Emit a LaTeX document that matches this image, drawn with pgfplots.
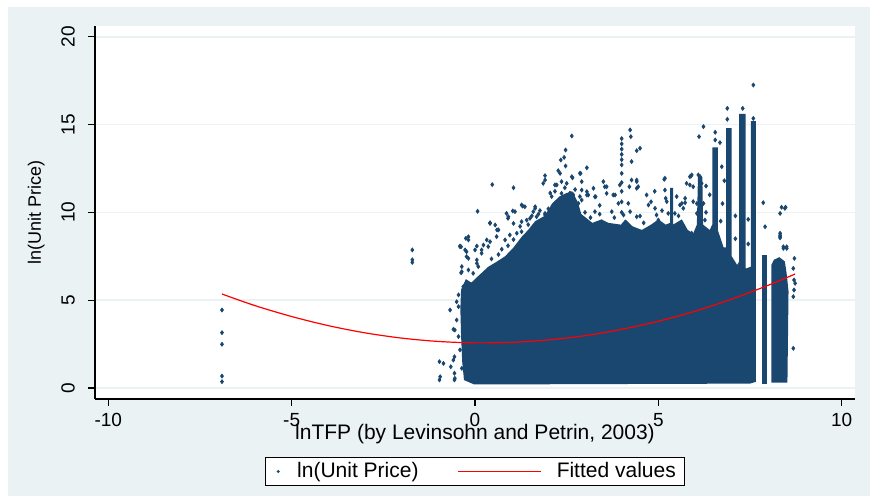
\documentclass[border=0pt]{standalone}
\usepackage{pgfplots}
\pgfplotsset{compat=1.18}
\usepackage{fontspec}
\setmainfont{Liberation Sans}
\definecolor{stnavy}{RGB}{26,71,111}
\definecolor{stbg}{RGB}{234,242,243}
\definecolor{stgrid}{RGB}{234,242,243}
\pgfplotsset{
  scatlegend/.style={legend image code/.code={\path[draw=none, fill=none] (0pt,-1pt) rectangle (4pt,1pt); \fill[stnavy, draw=none] (2pt,0pt) circle (0.8pt);}},
  linelegend/.style={legend image code/.code={\draw[##1] (0pt,0pt) -- (41.5pt,0pt);}},
}
\begin{document}
\begin{tikzpicture}
\fill[white] (0,0) rectangle (435pt,248pt);
\fill[stbg] (4pt,0) rectangle (435pt,244.5pt);
\begin{axis}[
  at={(47.5pt,48.5pt)}, anchor=south west,
  scale only axis, width=380pt, height=186.5pt,
  xmin=-10.363, xmax=10.363, ymin=-0.626, ymax=20.61,
  axis x line*=bottom, axis y line*=left,
  axis line style={-, black, line width=0.6pt},
  axis background/.style={fill=white},
  xtick={-10,-5,0,5,10}, xticklabels={-10,-5,0,5,10},
  ytick={0,5,10,15,20}, yticklabels={0,5,10,15,20},
  tick align=outside, major tick length=3.3pt,
  tick style={black, line width=0.6pt},
  ymajorgrids, major grid style={stgrid, line width=0.8pt},
  xticklabel style={font=\fontsize{9.5}{11}\selectfont, anchor=base, yshift=-10.5pt},
  yticklabel style={font=\fontsize{9.5}{11}\selectfont, xshift=-6.9pt, rotate=90, anchor=base},
  every axis x label/.style={at={(rel axis cs:0.5,0)}, anchor=base, yshift=-20.25pt, font=\fontsize{10.5}{12}\selectfont},
  every axis y label/.style={at={(rel axis cs:0,0.5)}, xshift=-27pt, rotate=90, anchor=base, font=\fontsize{9}{11}\selectfont},
  xlabel={lnTFP (by Levinsohn and Petrin, 2003)},
  ylabel={ln(Unit Price)},
  legend columns=2,
  legend style={at={(0.5,-0.1944)}, anchor=center, draw=black, line width=0.6pt, fill=white,
    font=\fontsize{10.5}{12}\selectfont, inner xsep=4.5pt, inner ysep=2.4pt,
    nodes={inner sep=0pt},
    /tikz/every odd column/.append style={column sep=7.5pt},
    /tikz/every even column/.append style={column sep=19.5pt}},
]
% dense mass of observations, drawn as filled regions
\addplot[fill=stnavy, draw=none, forget plot] coordinates {
(-0.02,0.2)(-0.3,0.45)(-0.35,1.5)(-0.38,3.0)(-0.4,4.5)(-0.38,5.6)(-0.25,6.2)(-0.1,6.0)(0.05,6.3)
(0.36,6.9)(0.6,7.2)(0.82,7.5)(1.05,8.0)(1.27,8.6)(1.45,9.0)(1.64,9.5)(1.9,9.8)(2.1,10.5)(2.3,10.9)
(2.5,11.1)(2.65,11.2)(2.8,10.6)(2.9,9.9)(3.2,9.4)(3.45,9.6)(3.64,9.4)(3.98,9.3)(4.1,9.6)(4.3,9.2)
(4.55,9.0)(4.8,9.3)(5.0,9.6)(5.2,9.3)(5.32,9.4)(5.32,11.4)(5.40,11.4)(5.40,9.3)(5.64,9.6)(5.8,9.0)
(5.95,8.8)(6.05,9.3)(6.08,12.0)(6.2,12.0)(6.22,9.3)(6.4,9.0)(6.47,9.3)(6.47,13.7)(6.62,13.7)(6.62,9.0)
(6.78,8.0)(6.85,8.0)(6.85,14.8)(7.0,14.8)(7.0,7.5)(7.15,7.0)(7.2,7.2)(7.2,15.6)(7.38,15.6)(7.38,6.8)
(7.52,6.9)(7.52,15.2)(7.66,15.2)(7.66,0.35)(7.5,0.25)
} -- cycle;
\addplot[fill=stnavy, draw=none, forget plot] coordinates {
(7.84,0.2)(7.84,7.6)(7.95,7.6)(7.95,0.2)
} -- cycle;
\addplot[fill=stnavy, draw=none, forget plot] coordinates {
(8.08,0.3)(8.08,7.0)(8.15,7.3)(8.3,7.45)(8.45,7.2)(8.5,6.5)(8.55,5.5)(8.52,0.3)
} -- cycle;
% scattered observations
\addplot[only marks, mark=diamond*, mark size=0.95pt, mark options={draw=stnavy, fill=stnavy}, scatlegend]
coordinates {
(-6.9,4.44)(-6.9,3.15)(-6.9,2.49)(-6.9,0.68)(-6.9,0.36)
(-1.71,7.86)(-1.71,7.15)(-1.71,7.3)
(-0.68,4.44)(-0.97,1.5)(-0.97,0.46)(-0.66,1.21)(-0.56,1.78)(-0.56,0.84)(-0.56,0.46)(-0.59,3.34)
(-0.38,6.56)(-0.38,8.04)(-0.18,8.61)(-0.55,3.3)(-0.86,1.4)(-0.95,0.64)(-0.41,8.08)(-0.25,8.52)(0.05,8.08)
(-0.59,1.59)(-0.55,0.55)(-0.5,4.91)(-0.45,4.63)(-0.5,3.87)(-0.45,2.93)(-0.41,2.17)(-0.36,1.12)
(-0.45,5.3)(-0.32,5.77)(-0.23,7.48)(-0.36,6.91)(-0.05,6.53)(-0.14,5.86)(0.05,7.1)(0.18,7.86)(0.32,8.43)
(2.64,14.35)(2.47,13.55)(2.34,12.98)(2.43,13.13)(2.47,12.64)(2.27,12.37)(3.05,12.54)(2.88,12.22)
(2.66,11.97)(1.91,12.09)(0.47,11.58)(1.05,11.4)(3.5,11.75)(2.91,11.75)(2.91,11.27)(1.91,11.84)
(2.18,11.56)(0.07,10.06)(1.3,10.36)(1.03,10.08)(0.91,9.75)(0.41,9.41)(3.82,10.99)(3.59,11.46)
(3.29,10.89)(3.05,10.99)(2.59,11.08)(1.64,10.32)(1.5,9.66)(1.91,9.85)
(1.86,11.65)(2.32,12.22)(2.36,11.75)(2.64,12.03)(2.23,11.56)(2.5,11.65)(2.59,11.08)(2.36,11.08)
(1.27,10.42)(1.36,10.32)(1.64,10.23)(1.59,10.04)(0.86,9.94)(1.09,10.04)(0.9,9.66)(0.41,9.37)
(0.55,9.28)(0.64,9.0)(1.05,9.37)(1.27,9.47)(1.41,9.56)(1.68,9.75)(1.86,9.56)(1.91,9.94)(1.14,8.81)
(0.95,8.71)(0.82,8.43)(0.59,8.62)(0.41,8.33)(0.36,8.05)(0.23,8.14)(-0.18,8.43)(-0.41,8.05)(-0.23,7.76)
(-0.18,7.38)(-0.27,7.86)(0.0,7.86)(0.18,7.67)(0.05,7.29)(0.09,6.91)(-0.18,6.72)(-0.36,6.62)
(0.45,7.35)(0.64,7.6)(0.73,7.9)(0.9,8.1)(1.05,8.45)(1.27,8.9)(1.23,9.2)(1.45,9.3)(1.55,9.8)(1.73,9.9)
(1.77,10.1)(2.0,10.2)(2.09,10.9)(2.05,11.1)(2.18,11.2)(2.45,11.4)(2.73,11.3)(2.68,11.0)(2.86,10.9)
(2.86,12.22)(3.05,11.18)(3.09,10.99)(2.91,10.7)(2.82,10.51)(3.23,11.37)(3.27,10.89)(3.54,11.46)
(3.59,11.08)(3.77,10.99)(3.91,10.51)(3.95,11.56)(4.0,12.22)(4.18,10.51)(4.27,11.84)(4.41,11.84)
(4.45,11.46)(4.41,9.75)(4.68,10.99)(4.73,10.42)(4.91,10.23)(5.18,11.94)(5.18,11.27)(5.23,10.61)
(5.27,9.94)(5.64,10.51)(5.68,10.23)(5.73,10.8)(5.86,12.03)(5.86,11.56)(5.95,10.61)(3.73,10.04)
(3.27,10.04)(4.23,10.04)(5.45,9.94)(5.0,9.56)(3.0,10.0)(3.4,9.9)(3.15,9.7)(3.8,9.7)(4.05,9.85)
(4.6,9.4)(4.95,9.85)(5.55,9.8)(5.1,10.1)
(5.91,12.13)(6.09,12.13)(6.18,11.65)(5.95,11.46)(6.23,10.51)(6.05,9.94)(6.27,9.56)(5.91,8.81)
(6.14,8.62)(6.32,8.24)(6.36,7.86)
(7.59,17.25)(6.88,15.92)(6.88,15.3)(7.3,15.92)(7.59,15.35)(6.23,14.88)(6.55,14.56)(6.11,14.31)
(6.55,14.12)(6.68,13.97)(4.23,14.69)(4.25,14.31)
(4.0,14.2)(4.0,13.9)(4.0,13.6)(4.0,13.3)(4.0,13.0)(4.0,12.7)(4.0,11.7)(4.0,11.2)(4.0,10.6)(4.0,10.0)
(4.5,13.65)(4.41,13.51)(4.27,12.89)(5.89,12.07)(6.14,12.03)(5.16,11.88)(4.41,11.75)(7.86,10.55)
(8.36,10.29)(8.47,10.29)(8.32,9.94)(7.91,9.18)(8.32,8.7)(8.32,8.55)(8.41,7.95)(8.5,7.95)(4.21,11.46)
(4.41,11.37)(4.5,9.79)(5.59,10.42)(5.73,10.55)(5.77,11.65)(8.45,10.23)(8.32,8.81)
(8.68,6.81)(8.68,5.2)(8.68,2.26)(8.7,6.15)(8.73,5.96)(8.7,5.58)(8.71,7.38)(8.32,8.61)(8.41,8.04)(8.5,8.04)
(6.3,10.0)(6.4,11.0)(6.3,11.5)(6.05,10.5)(5.5,10.9)(4.8,10.6)(3.4,10.4)(0.6,9.0)(5.2,10.8)(4.9,11.2)
(6.7,9.5)(6.75,10.5)(6.8,11.8)(6.73,12.6)(7.1,8.5)(7.1,9.8)(7.45,8.2)(7.45,9.6)
};
\addlegendentry{ln(Unit Price)}
\addplot[red, line width=0.6pt, smooth, linelegend]
coordinates {
(-6.9,5.35)(-6,4.69)(-5,4.07)(-4,3.55)(-3,3.14)(-2,2.84)(-1,2.65)(0,2.57)(1,2.60)(2,2.74)
(3,2.98)(4,3.34)(5,3.80)(6,4.37)(7,5.06)(8,5.85)(8.73,6.49)
};
\addlegendentry{Fitted values}
\end{axis}
\pgfresetboundingbox
\path[use as bounding box] (0,0) rectangle (435pt,248pt);
\end{tikzpicture}
\end{document}
